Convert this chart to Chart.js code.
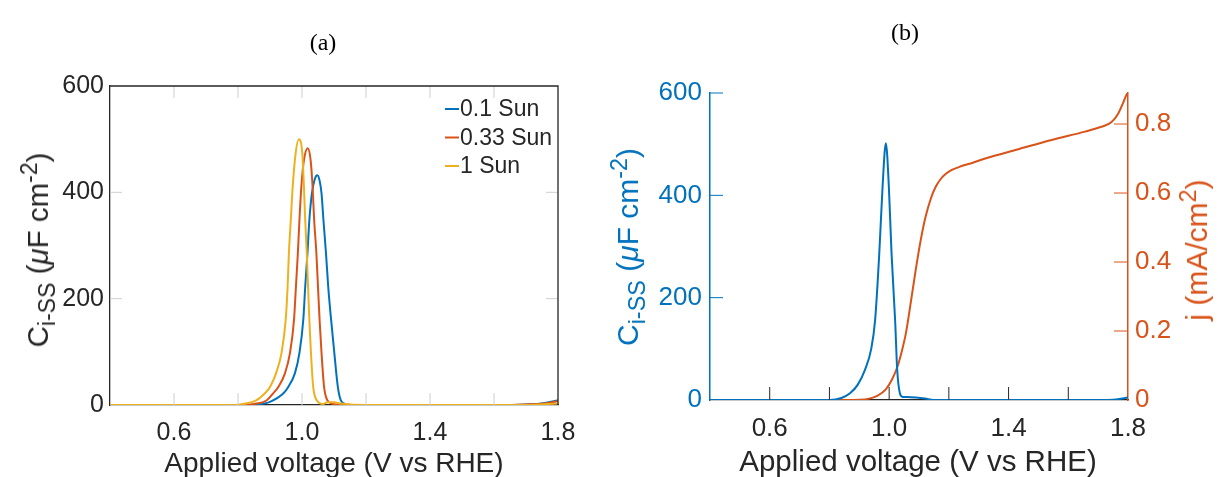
<!DOCTYPE html>
<html>
<head>
<meta charset="utf-8">
<script src="https://cdn.jsdelivr.net/npm/chart.js@4.4.0/dist/chart.umd.min.js"></script>
<style>
body { margin: 0; background: #fff; width: 1218px; height: 477px; overflow: hidden; position: relative;
       font-family: "Liberation Sans", Arial, sans-serif; }
.box { position: absolute; top: 0; width: 609px; height: 477px; }
.lbl { position: absolute; white-space: nowrap; transform: translate(-50%, -50%); }
.rot { transform: translate(-50%, -50%) rotate(-90deg); }
.panel { font-family: "Liberation Serif", "Times New Roman", serif; font-size: 24px; color: #000; }
.axt { color: #262626; }
sub, sup { font-size: 0.78em; line-height: 0; }
</style>
</head>
<body>
<div class="box" style="left:0"><canvas id="chartA"></canvas></div>
<div class="box" style="left:609px"><canvas id="chartB"></canvas></div>

<div class="lbl panel" style="left:323px;top:42px">(a)</div>
<div class="lbl panel" style="left:905px;top:32px">(b)</div>

<div class="lbl axt" style="left:334px;top:463px;font-size:28px">Applied voltage (V vs RHE)</div>
<div class="lbl axt" style="left:918px;top:461px;font-size:29.5px">Applied voltage (V vs RHE)</div>

<div class="lbl axt rot" style="left:38px;top:250px;font-size:29.5px">C<sub>i-SS</sub> (<i>μ</i>F cm<sup>-2</sup>)</div>
<div class="lbl axt rot" style="left:628px;top:247px;font-size:30px;color:#0072BD">C<sub>i-SS</sub> (<i>μ</i>F cm<sup>-2</sup>)</div>
<div class="lbl axt rot" style="left:1197px;top:250px;font-size:30px;color:#D95319">j (mA/cm<sup>2</sup>)</div>

<script>
// ---- data ----
// (a) capacitance vs voltage, three light intensities
const sun01V  = [0.40, 0.80, 0.86, 0.90, 0.942, 0.957, 0.978, 0.992, 1.004, 1.010, 1.017, 1.023, 1.031, 1.040, 1.048, 1.055, 1.061, 1.067, 1.075, 1.082, 1.091, 1.101, 1.112, 1.121, 1.134, 1.15, 1.60, 1.70, 1.76, 1.80];
const sun01C  = [0, 0, 1, 6, 22, 34, 60, 98, 160, 222, 285, 348, 398, 425, 432, 422, 398, 348, 285, 222, 160, 98, 34, 9, 2, 0, 0, 1, 4, 9];

const sun033V = [0.40, 0.80, 0.85, 0.89, 0.91, 0.926, 0.947, 0.9625, 0.975, 0.981, 0.987, 0.992, 0.998, 1.006, 1.018, 1.027, 1.033, 1.038, 1.045, 1.050, 1.055, 1.061, 1.069, 1.079, 1.098, 1.12, 1.60, 1.70, 1.76, 1.80];
const sun033C = [0, 0, 2, 9, 22, 34, 60, 98, 160, 222, 285, 348, 411, 460, 483, 460, 411, 348, 285, 222, 160, 98, 34, 9, 2, 0, 0, 1, 3, 7];

const sun1V   = [0.40, 0.78, 0.806, 0.858, 0.884, 0.90, 0.919, 0.936, 0.949, 0.955, 0.959, 0.965, 0.971, 0.980, 0.990, 1.001, 1.006, 1.010, 1.015, 1.019, 1.023, 1.028, 1.035, 1.046, 1.066, 1.08, 1.10, 1.12, 1.20, 1.70, 1.80];
const sun1C   = [0, 0, 1, 9, 22, 34, 60, 98, 160, 222, 285, 348, 411, 473, 500, 473, 411, 348, 285, 222, 160, 98, 34, 9, 2, 5, 5, 3, 0, 0, 3];

// (b) capacitance and current density at 1 Sun
const capV = [0.40, 0.802, 0.840, 0.869, 0.895, 0.919, 0.940, 0.953, 0.967, 0.978, 0.989, 0.999, 1.008, 1.020, 1.027, 1.036, 1.045, 1.06, 1.09, 1.12, 1.15, 1.70, 1.76, 1.80];
const capC = [0, 0, 4, 13, 30, 59, 100, 156, 287, 417, 502, 417, 287, 156, 59, 13, 6, 6, 5, 3, 0, 0, 1, 5];

const jV = [0.44, 0.80, 0.90, 0.933, 0.96, 0.989, 1.01, 1.028, 1.042, 1.056, 1.072, 1.089, 1.105, 1.122, 1.14, 1.156, 1.172, 1.189, 1.21, 1.233, 1.28, 1.322, 1.433, 1.544, 1.656, 1.711, 1.744, 1.767, 1.783, 1.795, 1.80];
const jA = [0, 0, 0.001, 0.004, 0.012, 0.031, 0.06, 0.097, 0.14, 0.193, 0.28, 0.377, 0.46, 0.531, 0.585, 0.618, 0.64, 0.655, 0.667, 0.675, 0.688, 0.700, 0.727, 0.754, 0.778, 0.792, 0.805, 0.83, 0.86, 0.885, 0.89];

// ticks
const xTickVals = [0.4, 0.6, 0.8, 1.0, 1.2, 1.4, 1.6, 1.8];
const xTickLabels = ['', '0.6', '', '1.0', '', '1.4', '', '1.8'];
const capTicks = [0, 200, 400, 600];
const jTicks = [0, 0.2, 0.4, 0.6, 0.8];
const jLabels = ['0', '0.2', '0.4', '0.6', '0.8'];

const BLUE = '#0072BD', ORANGE = '#D95319', YELLOW = '#EDB120', INK = '#262626';
const FONT = "'Liberation Sans', Arial, sans-serif";

const pts = (xs, ys) => xs.map((x, i) => ({ x: x, y: ys[i] }));
const setTicks = vals => scale => { scale.ticks = vals.map(v => ({ value: v })); };

// short MATLAB-style ticks pointing into the plot, plus optional box
const innerTicks = {
  id: 'innerTicks',
  afterDraw(chart, args, opts) {
    const ctx = chart.ctx, a = chart.chartArea;
    ctx.save();
    ctx.lineWidth = 1;
    (opts.marks || []).forEach(m => {
      const s = chart.scales[m.scale];
      ctx.strokeStyle = m.color;
      m.values.forEach(v => {
        const p = s.getPixelForValue(v);
        ctx.beginPath();
        m.sides.forEach(side => {
          if (side === 'bottom') { ctx.moveTo(p, a.bottom); ctx.lineTo(p, a.bottom - m.len); }
          if (side === 'top') { ctx.moveTo(p, a.top); ctx.lineTo(p, a.top + m.len); }
          if (side === 'left') { ctx.moveTo(a.left, p); ctx.lineTo(a.left + m.len, p); }
          if (side === 'right') { ctx.moveTo(a.right, p); ctx.lineTo(a.right - m.len, p); }
        });
        ctx.stroke();
      });
    });
    if (opts.box) {
      ctx.strokeStyle = INK;
      ctx.lineWidth = 1.3;
      ctx.beginPath();
      ctx.moveTo(a.left, a.top); ctx.lineTo(a.right, a.top); ctx.lineTo(a.right, a.bottom);
      ctx.stroke();
    }
    ctx.restore();
  }
};

// legend without frame, top right inside the axes
const cornerLegend = {
  id: 'cornerLegend',
  afterDraw(chart, args, opts) {
    if (!opts.show) return;
    const ctx = chart.ctx, a = chart.chartArea;
    ctx.save();
    ctx.font = '23px ' + FONT;
    ctx.textBaseline = 'middle';
    ctx.fillStyle = INK;
    ctx.lineWidth = 2;
    opts.order.forEach((di, row) => {
      const ds = chart.data.datasets[di];
      const y = a.top + 23 + row * 28.5;
      const x0 = a.right - 113;
      ctx.strokeStyle = ds.borderColor;
      ctx.beginPath(); ctx.moveTo(x0, y); ctx.lineTo(x0 + 14, y); ctx.stroke();
      ctx.fillText(ds.label, x0 + 15, y + 1);
    });
    ctx.restore();
  }
};

Chart.register(innerTicks, cornerLegend);

const lineDs = (label, data, color, order, axis) => ({
  label: label, data: data, borderColor: color, backgroundColor: color,
  borderWidth: 2, pointRadius: 0, cubicInterpolationMode: 'monotone',
  order: order, yAxisID: axis || 'y'
});

const noGrid = { display: false, drawTicks: false };

const xAxis = (height, size) => ({
  type: 'linear', min: 0.4, max: 1.8,
  afterBuildTicks: setTicks(xTickVals),
  afterFit: s => { s.height = height; },
  grid: noGrid,
  border: { display: true, color: INK, width: 1.3 },
  ticks: {
    autoSkip: false, maxRotation: 0, padding: 13, color: INK,
    font: { size: size, family: FONT },
    callback: (v, i) => xTickLabels[i]
  }
});

new Chart(document.getElementById('chartA'), {
  type: 'line',
  data: {
    datasets: [
      lineDs('0.1 Sun', pts(sun01V, sun01C), BLUE, 3),
      lineDs('0.33 Sun', pts(sun033V, sun033C), ORANGE, 2),
      lineDs('1 Sun', pts(sun1V, sun1C), YELLOW, 1)
    ]
  },
  options: {
    responsive: true, maintainAspectRatio: false, animation: false,
    layout: { padding: { top: 86, right: 51, left: 0, bottom: 0 } },
    scales: {
      x: xAxis(72, 25),
      y: {
        min: 0, max: 600,
        afterBuildTicks: setTicks(capTicks),
        afterFit: s => { s.width = 110; },
        grid: noGrid,
        border: { display: true, color: INK, width: 1.3 },
        ticks: { padding: 6, color: INK, font: { size: 25, family: FONT } }
      }
    },
    plugins: {
      legend: { display: false }, tooltip: { enabled: false },
      innerTicks: {
        box: true,
        marks: [
          { scale: 'x', values: [0.6, 0.8, 1.0, 1.2, 1.4, 1.6], sides: ['bottom', 'top'], color: '#cfcfcf', len: 12 },
          { scale: 'y', values: [200, 400], sides: ['left', 'right'], color: '#cfcfcf', len: 12 }
        ]
      },
      cornerLegend: { show: true, order: [0, 1, 2] }
    }
  }
});

new Chart(document.getElementById('chartB'), {
  type: 'line',
  data: {
    datasets: [
      lineDs('Ci-SS', pts(capV, capC), BLUE, 1, 'y'),
      lineDs('j', pts(jV, jA), ORANGE, 2, 'y1')
    ]
  },
  options: {
    responsive: true, maintainAspectRatio: false, animation: false,
    layout: { padding: { top: 93, right: 0, left: 0, bottom: 0 } },
    scales: {
      x: xAxis(77, 26),
      y: {
        position: 'left', min: 0, max: 600,
        afterBuildTicks: setTicks(capTicks),
        afterFit: s => { s.width = 101; },
        grid: noGrid,
        border: { display: true, color: BLUE, width: 1.5 },
        ticks: { padding: 8, color: BLUE, font: { size: 26, family: FONT } }
      },
      y1: {
        position: 'right', min: 0, max: 0.89,
        afterBuildTicks: setTicks(jTicks),
        afterFit: s => { s.width = 90; },
        grid: noGrid,
        border: { display: true, color: ORANGE, width: 1.5 },
        ticks: { padding: 7, color: ORANGE, font: { size: 26, family: FONT },
                 callback: (v, i) => jLabels[i] }
      }
    },
    plugins: {
      legend: { display: false }, tooltip: { enabled: false },
      innerTicks: {
        box: false,
        marks: [
          { scale: 'x', values: [0.6, 0.8, 1.0, 1.2, 1.4, 1.6], sides: ['bottom'], color: INK, len: 13 },
          { scale: 'y', values: [200, 400, 600], sides: ['left'], color: BLUE, len: 13 },
          { scale: 'y1', values: [0.2, 0.4, 0.6, 0.8], sides: ['right'], color: ORANGE, len: 14 }
        ]
      },
      cornerLegend: { show: false }
    }
  }
});
</script>
</body>
</html>
